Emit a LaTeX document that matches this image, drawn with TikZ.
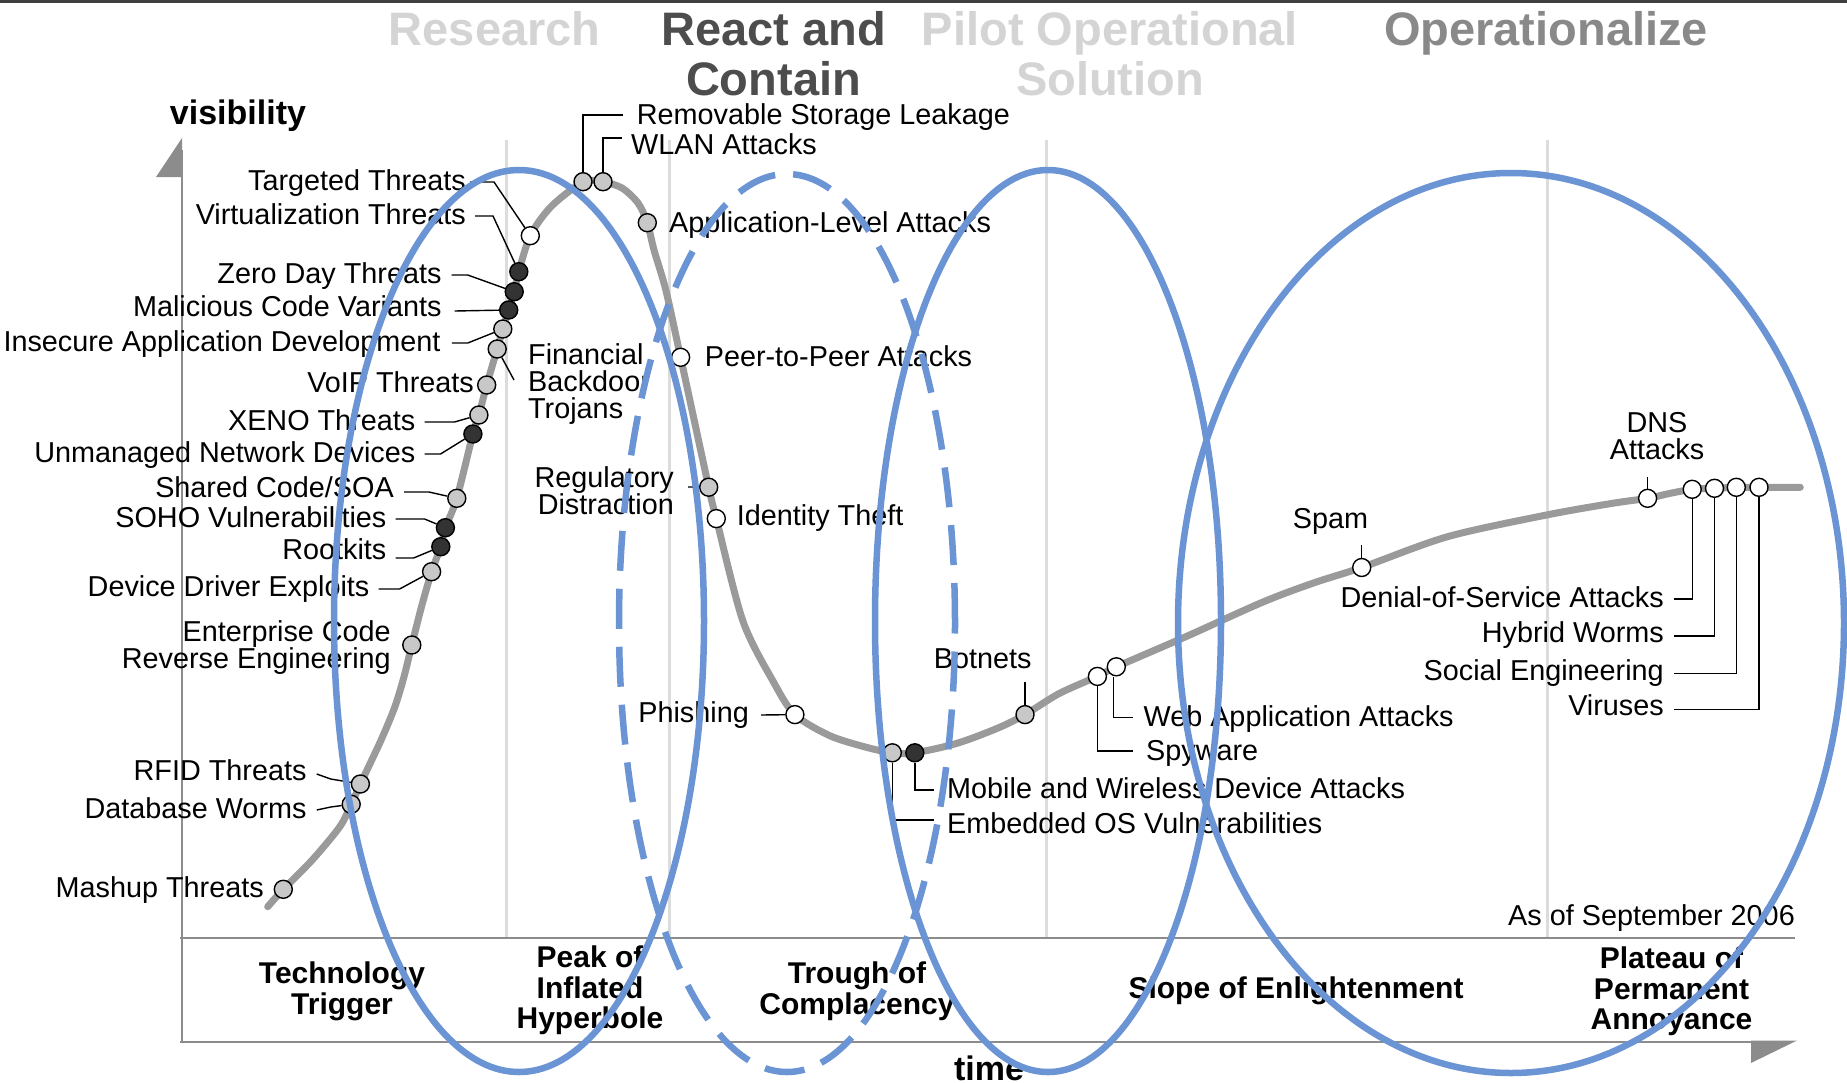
\documentclass[tikz,border=0pt]{standalone}
\usepackage{fontspec}
\setmainfont{Liberation Sans}
\definecolor{ellblue}{HTML}{6A94D4}
\definecolor{curvegray}{HTML}{9A9A9A}
\definecolor{sepgray}{HTML}{DCDCDC}
\definecolor{axisgray}{HTML}{8C8C8C}
\definecolor{dotgray}{HTML}{C8C8C8}
\definecolor{dotdark}{HTML}{333333}
\definecolor{headlight}{HTML}{D4D4D4}
\definecolor{headdark}{HTML}{4D4D4D}
\definecolor{headmid}{HTML}{898989}
\begin{document}
\begin{tikzpicture}[x=1pt,y=-1pt,
  lab/.style={inner sep=0pt, font=\fontsize{28.8}{27}\selectfont},
  lab1/.style={lab, yshift=-3.5pt},
  dotg/.style={circle, draw=black, line width=1.4pt, fill=dotgray, minimum size=18pt, inner sep=0pt},
  dotd/.style={dotg, fill=dotdark},
  dotw/.style={dotg, fill=white},
  lead/.style={draw=black, line width=1.4pt},
  ell/.style={draw=ellblue, line width=6.5pt},
  sep/.style={draw=sepgray, line width=3pt},
  axisline/.style={draw=axisgray, line width=2.2pt},
  hype/.style={draw=curvegray, line width=7pt, line cap=round},
  head/.style={inner sep=0pt, font=\fontsize{47}{50}\selectfont\bfseries, align=center, anchor=north},
  phase/.style={inner sep=0pt, font=\fontsize{30}{30.5}\selectfont\bfseries, align=center, anchor=north},
  axlab/.style={inner sep=0pt, font=\fontsize{34}{34}\selectfont\bfseries}
]
\useasboundingbox (0,0) rectangle (1847,1082);
\fill[white] (0,0) rectangle (1847,1082);
\draw[line width=3pt, color=black!75] (0,1) -- (1847,1);

% phase separators
\draw[sep] (506.5,140) -- (506.5,938);
\draw[sep] (669,140) -- (669,938);
\draw[sep] (1046.5,140) -- (1046.5,938);
\draw[sep] (1547.5,140) -- (1547.5,938);

% axes
\draw[axisline] (182,150) -- (182,1042);
\draw[axisline] (180,938.3) -- (1795,938.3);
\draw[axisline] (180,1041.7) -- (1760,1041.7);
\fill[axisgray] (182,138) -- (182,177) -- (156,177) -- cycle;
\fill[axisgray] (1797,1040.5) -- (1751,1040.5) -- (1751,1063) -- cycle;

% hype curve
\draw[hype] plot[smooth, tension=0.5] coordinates {
 (267.7,906.7) (283.3,889.3) (312.2,860) (339.8,826.7) (351.2,804.3) (360.4,784)
 (381.1,740) (394.9,706.7) (404,676.7) (411.8,645) (421.5,606.7) (431.6,571.7)
 (440.8,546.7) (445.4,527.7) (456.8,498.3) (472.9,434) (478.9,415) (486.7,385)
 (497.2,349) (502.8,329) (508.7,310) (514.2,291.7) (518.8,271.7) (530.3,235.7)
 (551,206.7) (583,182) (603,182) (622,188) (638,203) (647.3,222.7) (654,250)
 (665.8,290) (680.6,357.3) (708.7,487.2) (716.3,518.6) (742.9,621) (773.5,682)
 (794.9,714.6) (829.6,735.6) (865.3,747) (892.3,752.8) (914.8,752.8) (957,743.3)
 (998,728) (1025,714.6) (1059,693.6) (1097.4,676.4) (1116.3,666.8) (1186.7,636.3)
 (1263,602) (1314,582.8) (1361.7,567.5) (1447.5,536.7) (1546.5,515) (1612.5,503.3)
 (1647.6,498.3) (1670.3,493.3) (1692.2,489.3) (1714.5,488.3) (1736.3,487.3)
 (1759,487.3) (1800.3,487.3)};

% markers
\node[dotg] (mashup) at (283.3,889.3) {};
\node[dotg] (dbworms) at (351.2,804.3) {};
\node[dotg] (rfid) at (360.4,784) {};
\node[dotg] (enterprise) at (411.8,645) {};
\node[dotg] (driver) at (431.6,571.7) {};
\node[dotd] (rootkits) at (440.8,546.7) {};
\node[dotd] (soho) at (445.4,527.7) {};
\node[dotg] (shared) at (456.8,498.3) {};
\node[dotd] (unmanaged) at (472.9,434) {};
\node[dotg] (xeno) at (478.9,415) {};
\node[dotg] (voip) at (486.7,385) {};
\node[dotg] (financial) at (497.2,349) {};
\node[dotg] (insecure) at (502.8,329) {};
\node[dotd] (malicious) at (508.7,310) {};
\node[dotd] (zeroday) at (514.2,291.7) {};
\node[dotd] (virtual) at (518.8,271.7) {};
\node[dotw] (targeted) at (530.3,235.7) {};
\node[dotg] (removable) at (583,181.7) {};
\node[dotg] (wlan) at (603,181.7) {};
\node[dotg] (applevel) at (647.3,222.7) {};
\node[dotw] (p2p) at (680.6,357.3) {};
\node[dotg] (regulatory) at (708.7,487.2) {};
\node[dotw] (identity) at (716.3,518.6) {};
\node[dotw] (phishing) at (794.9,714.6) {};
\node[dotg] (embedded) at (892.3,752.8) {};
\node[dotd] (mobile) at (914.8,752.8) {};
\node[dotg] (botnets) at (1025,714.6) {};
\node[dotw] (spyware) at (1097.4,676.4) {};
\node[dotw] (webapp) at (1116.3,666.8) {};
\node[dotw] (spam) at (1361.7,567.5) {};
\node[dotw] (dns) at (1647.6,498.3) {};
\node[dotw] (dos) at (1692.2,489.3) {};
\node[dotw] (hybrid) at (1714.5,488.3) {};
\node[dotw] (social) at (1736.3,487.3) {};
\node[dotw] (viruses) at (1759,487.3) {};

% labels
\node[lab1, anchor=mid east] (lTargeted) at (466,184) {Targeted Threats};
\node[lab1, anchor=mid east] (lVirtual) at (466,218) {Virtualization Threats};
\node[lab1, anchor=mid east] (lZero) at (441.7,277) {Zero Day Threats};
\node[lab1, anchor=mid east] (lMal) at (441.7,310) {Malicious Code Variants};
\node[lab1, anchor=mid east] (lInsecure) at (440.8,345) {Insecure Application Development};
\node[lab, anchor=north west, align=left] (lFinancial) at (528,343) {Financial\\Backdoor\\Trojans};
\node[lab1, anchor=mid east] (lVoip) at (474,386) {VoIP Threats};
\node[lab1, anchor=mid east] (lXeno) at (415.5,424) {XENO Threats};
\node[lab1, anchor=mid east] (lUnmanaged) at (415.5,456) {Unmanaged Network Devices};
\node[lab1, anchor=mid east] (lShared) at (394,491) {Shared Code/SOA};
\node[lab1, anchor=mid east] (lSoho) at (386.6,521) {SOHO Vulnerabilities};
\node[lab1, anchor=mid east] (lRootkits) at (386.6,553) {Rootkits};
\node[lab1, anchor=mid east] (lDriver) at (369.6,590) {Device Driver Exploits};
\node[lab, anchor=north east, align=right] (lEnterprise) at (391,620) {Enterprise Code\\Reverse Engineering};
\node[lab1, anchor=mid east] (lRfid) at (306.7,774) {RFID Threats};
\node[lab1, anchor=mid east] (lDb) at (306.7,812) {Database Worms};
\node[lab1, anchor=mid east] (lMashup) at (264,891) {Mashup Threats};
\node[lab1, anchor=mid west] (lRemovable) at (636.7,118) {Removable Storage Leakage};
\node[lab1, anchor=mid west] (lWlan) at (631,148) {WLAN Attacks};
\node[lab1, anchor=mid west] (lApplevel) at (669,226) {Application-Level Attacks};
\node[lab1, anchor=mid west] (lP2p) at (704.6,360) {Peer-to-Peer Attacks};
\node[lab, anchor=north east, align=right] (lRegulatory) at (674,466) {Regulatory\\Distraction};
\node[lab1, anchor=mid west] (lIdentity) at (736.7,519) {Identity Theft};
\node[lab1, anchor=mid east] (lPhishing) at (749,716) {Phishing};
\node[lab1, anchor=mid] (lBotnets) at (982.7,662) {Botnets};
\node[lab1, anchor=mid west] (lMobile) at (947,792) {Mobile and Wireless Device Attacks};
\node[lab1, anchor=mid west] (lEmbedded) at (947,827) {Embedded OS Vulnerabilities};
\node[lab1, anchor=mid west] (lWebapp) at (1143.4,720.7) {Web Application Attacks};
\node[lab1, anchor=mid west] (lSpyware) at (1146,754) {Spyware};
\node[lab1, anchor=mid] (lSpam) at (1330.6,522.7) {Spam};
\node[lab, anchor=north, align=center] (lDns) at (1657,412.5) {DNS\\Attacks};
\node[lab1, anchor=mid east] (lDos) at (1664,601) {Denial-of-Service Attacks};
\node[lab1, anchor=mid east] (lHybrid) at (1664,636) {Hybrid Worms};
\node[lab1, anchor=mid east] (lSocial) at (1664,674.7) {Social Engineering};
\node[lab1, anchor=mid east] (lViruses) at (1664,709.7) {Viruses};
\node[lab1, anchor=mid east] (lAsof) at (1795,919.7) {As of September 2006};

% free ends
\coordinate (botnetsTop) at (1025,682);
\coordinate (spamTop) at (1361.7,545);
\coordinate (dnsTop) at (1647.6,477);

% leaders
\draw[lead] ([shift={(4,-5.5)}]lTargeted.mid east) -- ++(24,0) -- (targeted);
\draw[lead] ([shift={(9,-5.5)}]lVirtual.mid east) -- ++(18,0) -- (virtual);
\draw[lead] ([shift={(10,-5.5)}]lZero.mid east) -- ++(16,0) -- (zeroday);
\draw[lead] ([shift={(13,-2.5)}]lMal.mid east) -- (malicious);
\draw[lead] ([shift={(11,-5.5)}]lInsecure.mid east) -- ++(16,0) -- (insecure);
\draw[lead] (financial) -- ([shift={(-14,37)}]lFinancial.north west);
\draw[lead] ([shift={(9,-5.5)}]lXeno.mid east) -- ++(30,0) -- (xeno);
\draw[lead] ([shift={(9,-5.5)}]lUnmanaged.mid east) -- ++(16,0) -- (unmanaged);
\draw[lead] ([shift={(10,-2.5)}]lShared.mid east) -- ++(25,0) -- (shared);
\draw[lead] ([shift={(9,-5.5)}]lSoho.mid east) -- ++(29,0) -- (soho);
\draw[lead] ([shift={(9,1.5)}]lRootkits.mid east) -- ++(18,0) -- (rootkits);
\draw[lead] ([shift={(9,-4.5)}]lDriver.mid east) -- ++(21,0) -- (driver);
\draw[lead] ([shift={(10,-3.5)}]lRfid.mid east) -- ++(14,5) -- (rfid);
\draw[lead] ([shift={(10,-5.5)}]lDb.mid east) -- ++(14,-3) -- (dbworms);
\draw[lead] (removable) |- ([shift={(-14,-6.5)}]lRemovable.mid west);
\draw[lead] (wlan) |- ([shift={(-9,-13.5)}]lWlan.mid west);
\draw[lead] ([shift={(14,21)}]lRegulatory.north east) -- (regulatory);
\draw[lead] ([shift={(12,-4.5)}]lPhishing.mid east) -- (phishing);
\draw[lead] (botnets) -- (botnetsTop);
\draw[lead] (spam) -- (spamTop);
\draw[lead] (dns) -- (dnsTop);
\draw[lead] (mobile) |- ([shift={(-13,-5.5)}]lMobile.mid west);
\draw[lead] (embedded) |- ([shift={(-13,-10.5)}]lEmbedded.mid west);
\draw[lead] ([xshift=-3pt]webapp.south) |- ([shift={(-10,-6.5)}]lWebapp.mid west);
\draw[lead] (spyware) |- ([shift={(-13,-6.5)}]lSpyware.mid west);
\draw[lead] (dos) |- ([shift={(10,-5.5)}]lDos.mid east);
\draw[lead] (hybrid) |- ([shift={(10,-3.5)}]lHybrid.mid east);
\draw[lead] (social) |- ([shift={(10,-4.5)}]lSocial.mid east);
\draw[lead] (viruses) |- ([shift={(10,-3.5)}]lViruses.mid east);

% axis labels
\node[axlab, anchor=base] (visibility) at (238,124) {visibility};
\node[axlab, anchor=north] (timelbl) at (989,1056) {time};

% phase labels
\node[phase] (pTrigger) at (342,962) {Technology\\Trigger};
\node[phase] (pPeak) at (590,946) {Peak of\\Inflated\\Hyperbole};
\node[phase] (pTrough) at (857,962) {Trough of\\Complacency};
\node[phase] (pSlope) at (1296,977) {Slope of Enlightenment};
\node[phase] (pPlateau) at (1671.5,947) {Plateau of\\Permanent\\Annoyance};

% blue ellipses
\draw[ell] (519,621) ellipse [x radius=185pt, y radius=451pt];
\draw[ell, dash pattern=on 40pt off 18pt] (787,623) ellipse [x radius=168pt, y radius=449pt];
\draw[ell] (1048,621) ellipse [x radius=173pt, y radius=451pt];
\draw[ell] (1511,623) ellipse [x radius=333pt, y radius=450pt];

% headings
\node[head, text=headlight] (hResearch) at (494.7,11) {Research};
\node[head, text=headdark] (hReact) at (773.5,11) {React and\\Contain};
\node[head, text=headlight] (hPilot) at (1110,11) {Pilot Operational\\Solution};
\node[head, text=headmid] (hOper) at (1546,11) {Operationalize};
\end{tikzpicture}
\end{document}
